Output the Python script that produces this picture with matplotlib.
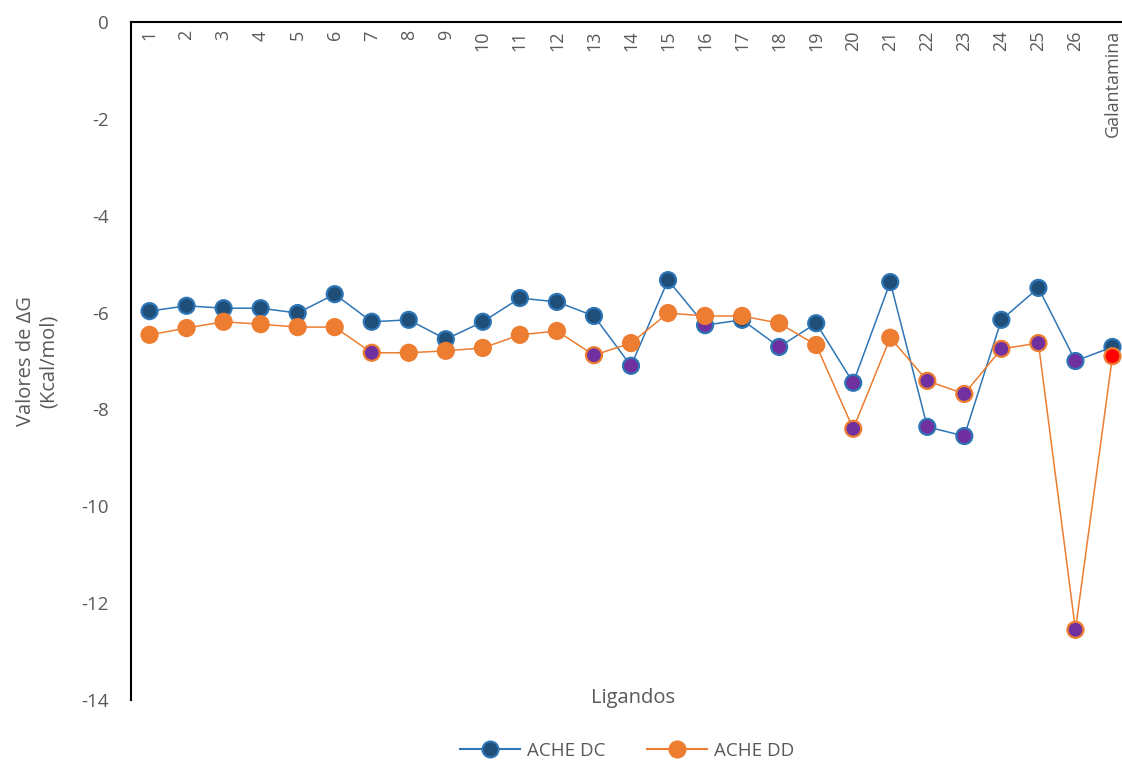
import numpy as np
import matplotlib.pyplot as plt
from matplotlib.lines import Line2D

plt.rcParams['font.family'] = ['Open Sans', 'DejaVu Sans']
plt.rcParams['axes.unicode_minus'] = False

categories = [str(i) for i in range(1, 27)] + ['Galantamina']
ache_dc = [-5.97, -5.86, -5.91, -5.91, -6.01, -5.62, -6.19, -6.15, -6.55, -6.19,
           -5.70, -5.78, -6.07, -7.10, -5.33, -6.26, -6.15, -6.71, -6.22, -7.45,
           -5.37, -8.36, -8.55, -6.15, -5.49, -7.00, -6.71]
ache_dd = [-6.46, -6.32, -6.19, -6.24, -6.30, -6.30, -6.83, -6.83, -6.79, -6.73,
           -6.46, -6.38, -6.88, -6.63, -6.01, -6.07, -6.07, -6.22, -6.67, -8.40,
           -6.52, -7.41, -7.68, -6.75, -6.63, -12.55, -6.90]
# points highlighted in the original (purple), and the reference compound (red)
dc_marked = ['14', '16', '18', '20', '22', '23', '26']
dd_marked = ['7', '13', '20', '22', '23', '24', '25', '26']
dd_reference = ['Galantamina']

BLUE_LINE = '#2E75B6'
BLUE_FILL = '#1F4E79'
ORANGE = '#ED7D31'
PURPLE = '#7030A0'
RED = '#FF0000'
GREY = '#595959'

x = np.arange(len(categories))

def fills(base, marked, special=()):
    out = []
    for c in categories:
        if c in special:
            out.append(RED)
        elif c in marked:
            out.append(PURPLE)
        else:
            out.append(base)
    return out

fig = plt.figure(figsize=(11.22, 7.61), dpi=100)
ax = fig.add_axes([131 / 1122, 1 - 700 / 761, 1000 / 1122, 678 / 761])

ms = 11.5
ax.plot(x, ache_dc, color=BLUE_LINE, lw=1.1, zorder=2)
ax.scatter(x, ache_dc, s=ms ** 2, c=fills(BLUE_FILL, dc_marked),
           edgecolors=BLUE_LINE, linewidths=1.6, zorder=3)
ax.plot(x, ache_dd, color=ORANGE, lw=1.1, zorder=4)
ax.scatter(x, ache_dd, s=ms ** 2, c=fills(ORANGE, dd_marked, dd_reference),
           edgecolors=ORANGE, linewidths=1.6, zorder=5)

ax.set_xlim(-0.5, len(categories) - 0.5)
ax.set_ylim(-14, 0)
ax.set_yticks(np.arange(-14, 1, 2))
ax.tick_params(axis='y', length=0, pad=16, labelsize=13.5, labelcolor=GREY)
ax.set_xticks([])

for s in ['right', 'bottom']:
    ax.spines[s].set_visible(False)
for s in ['left', 'top']:
    ax.spines[s].set_color('black')
    ax.spines[s].set_linewidth(1.5)

# category labels hang just under the zero line
for xi, lab in zip(x, categories):
    ax.text(xi, -0.17, lab, rotation=90, ha='center', va='top',
            fontsize=13, color=GREY)

ax.set_ylabel('Valores de ΔG\n(Kcal/mol)', fontsize=14.5, color=GREY, labelpad=16)
fig.text(633 / 1122, 1 - 698 / 761, 'Ligandos', ha='center', va='center',
         fontsize=14.5, color=GREY)

handles = [
    Line2D([], [], color=BLUE_LINE, lw=1.5, marker='o', markersize=11.5,
           markerfacecolor=BLUE_FILL, markeredgecolor=BLUE_LINE, markeredgewidth=1.5),
    Line2D([], [], color=ORANGE, lw=1.5, marker='o', markersize=11.5,
           markerfacecolor=ORANGE, markeredgecolor=ORANGE, markeredgewidth=1.5),
]
leg = fig.legend(handles, ['ACHE DC', 'ACHE DD'], loc='center',
                 bbox_to_anchor=(627 / 1122, 1 - 751 / 761), ncol=2, frameon=False,
                 fontsize=13.5, handlelength=3.2, columnspacing=2.2, handletextpad=0.4)
for t in leg.get_texts():
    t.set_color(GREY)

fig.savefig('out.png', dpi=100)
